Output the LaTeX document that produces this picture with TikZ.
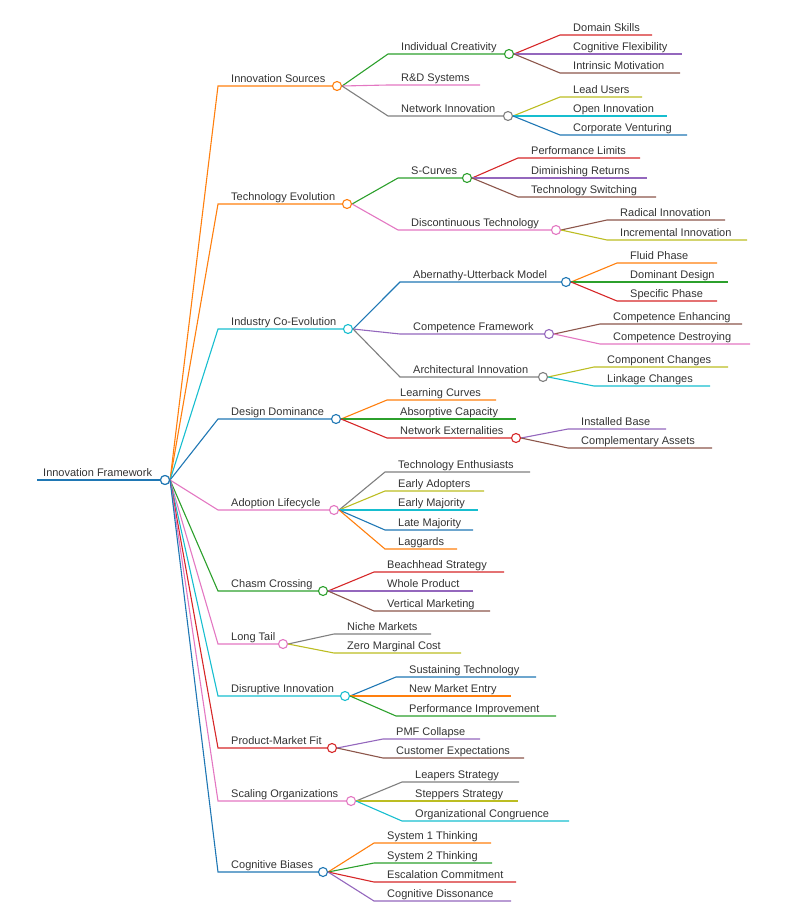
\documentclass[tikz,border=0pt]{standalone}
\usepackage{fontspec}
\setmainfont{Liberation Sans}
\definecolor{cB}{HTML}{1F77B4}\definecolor{cO}{HTML}{FF7F0E}\definecolor{cG}{HTML}{2CA02C}
\definecolor{cR}{HTML}{D62728}\definecolor{cP}{HTML}{9467BD}\definecolor{cN}{HTML}{8C564B}
\definecolor{cK}{HTML}{E377C2}\definecolor{cY}{HTML}{7F7F7F}\definecolor{cL}{HTML}{BCBD22}
\definecolor{cC}{HTML}{17BECF}\definecolor{txt}{HTML}{333333}
\tikzset{lab/.style={anchor=base west,inner sep=0pt,text=txt,font=\fontsize{11}{13}\selectfont},
dot/.style={circle,draw=#1,fill=white,line width=1.1pt,minimum size=9pt,inner sep=0pt},
br/.style={draw=#1,line width=1.1pt}}
% \midb{name}{parent}{startx}{circlex}{y}{color}{text}
\newcommand\midb[7]{%
 \coordinate (#1-s) at (#3,#5);
 \draw[br=#6] (#2.east) .. controls ($(#2.east)!0.5!(#1-s)$ |- #2.east) and ($(#2.east)!0.5!(#1-s)$ |- #1-s) .. (#1-s) -- (#4,#5);
 \node[lab] at (#3+13,#5-4) {#7};
 \node[dot=#6] (#1) at (#4,#5) {};}
% \leafb{name}{parent}{startx}{endx}{y}{color}{text}
\newcommand\leafb[7]{%
 \coordinate (#1-s) at (#3,#5);
 \coordinate (#1) at (#4,#5);
 \draw[br=#6] (#2.east) .. controls ($(#2.east)!0.5!(#1-s)$ |- #2.east) and ($(#2.east)!0.5!(#1-s)$ |- #1-s) .. (#1-s) -- (#1);
 \node[lab] at (#3+13,#5-4) {#7};}
\usetikzlibrary{calc}
\begin{document}
\begin{tikzpicture}[x=1pt,y=-1pt]
\useasboundingbox (0,0) rectangle (786,916);
\coordinate (r0) at (37,480);
\draw[cB,line width=2pt] (r0) -- (165,480);
\node[lab] at (43,476) {Innovation Framework};
\node[dot=cB] (root) at (165,480) {};
\midb{a}{root}{218}{337}{86}{cO}{Innovation Sources}
\midb{a1}{a}{388}{509}{54}{cG}{Individual Creativity}
\leafb{a11}{a1}{560}{652}{35}{cR}{Domain Skills}
\leafb{a12}{a1}{560}{682}{54}{cP}{Cognitive Flexibility}
\leafb{a13}{a1}{560}{680}{73}{cN}{Intrinsic Motivation}
\leafb{a2}{a}{388}{480}{85}{cK}{R\&D Systems}
\midb{a3}{a}{388}{508}{116}{cY}{Network Innovation}
\leafb{a31}{a3}{560}{642}{97}{cL}{Lead Users}
\leafb{a32}{a3}{560}{667}{116}{cC}{Open Innovation}
\leafb{a33}{a3}{560}{687}{135}{cB}{Corporate Venturing}
\midb{b}{root}{218}{347}{204}{cO}{Technology Evolution}
\midb{b1}{b}{398}{467}{178}{cG}{S-Curves}
\leafb{b11}{b1}{518}{640}{158}{cR}{Performance Limits}
\leafb{b12}{b1}{518}{647}{178}{cP}{Diminishing Returns}
\leafb{b13}{b1}{518}{656}{197}{cN}{Technology Switching}
\midb{b2}{b}{398}{556}{230}{cK}{Discontinuous Technology}
\leafb{b21}{b2}{607}{725}{220}{cN}{Radical Innovation}
\leafb{b22}{b2}{607}{747}{240}{cL}{Incremental Innovation}
\midb{c}{root}{218}{348}{329}{cC}{Industry Co-Evolution}
\midb{c1}{c}{400}{566}{282}{cB}{Abernathy-Utterback Model}
\leafb{c11}{c1}{617}{717}{263}{cO}{Fluid Phase}
\leafb{c12}{c1}{617}{728}{282}{cG}{Dominant Design}
\leafb{c13}{c1}{617}{717}{301}{cR}{Specific Phase}
\midb{c2}{c}{400}{549}{334}{cP}{Competence Framework}
\leafb{c21}{c2}{600}{742}{324}{cN}{Competence Enhancing}
\leafb{c22}{c2}{600}{750}{344}{cK}{Competence Destroying}
\midb{c3}{c}{400}{543}{377}{cY}{Architectural Innovation}
\leafb{c31}{c3}{594}{728}{367}{cL}{Component Changes}
\leafb{c32}{c3}{594}{710}{386}{cC}{Linkage Changes}
\midb{d}{root}{218}{336}{419}{cB}{Design Dominance}
\leafb{d1}{d}{387}{496}{400}{cO}{Learning Curves}
\leafb{d2}{d}{387}{516}{419}{cG}{Absorptive Capacity}
\midb{d3}{d}{387}{516}{438}{cR}{Network Externalities}
\leafb{d31}{d3}{568}{666}{429}{cP}{Installed Base}
\leafb{d32}{d3}{568}{712}{448}{cN}{Complementary Assets}
\midb{e}{root}{218}{334}{510}{cK}{Adoption Lifecycle}
\leafb{e1}{e}{385}{530}{472}{cY}{Technology Enthusiasts}
\leafb{e2}{e}{385}{484}{491}{cL}{Early Adopters}
\leafb{e3}{e}{385}{478}{510}{cC}{Early Majority}
\leafb{e4}{e}{385}{473}{530}{cB}{Late Majority}
\leafb{e5}{e}{385}{457}{549}{cO}{Laggards}
\midb{f}{root}{218}{323}{591}{cG}{Chasm Crossing}
\leafb{f1}{f}{374}{504}{572}{cR}{Beachhead Strategy}
\leafb{f2}{f}{374}{473}{591}{cP}{Whole Product}
\leafb{f3}{f}{374}{490}{611}{cN}{Vertical Marketing}
\midb{g}{root}{218}{283}{644}{cK}{Long Tail}
\leafb{g1}{g}{334}{431}{634}{cY}{Niche Markets}
\leafb{g2}{g}{334}{461}{653}{cL}{Zero Marginal Cost}
\midb{h}{root}{218}{345}{696}{cC}{Disruptive Innovation}
\leafb{h1}{h}{396}{536}{677}{cB}{Sustaining Technology}
\leafb{h2}{h}{396}{511}{696}{cO}{New Market Entry}
\leafb{h3}{h}{396}{556}{716}{cG}{Performance Improvement}
\midb{i}{root}{218}{332}{748}{cR}{Product-Market Fit}
\leafb{i1}{i}{383}{480}{739}{cP}{PMF Collapse}
\leafb{i2}{i}{383}{524}{758}{cN}{Customer Expectations}
\midb{j}{root}{218}{351}{801}{cK}{Scaling Organizations}
\leafb{j1}{j}{402}{519}{782}{cY}{Leapers Strategy}
\leafb{j2}{j}{402}{518}{801}{cL}{Steppers Strategy}
\leafb{j3}{j}{402}{569}{821}{cC}{Organizational Congruence}
\midb{k}{root}{218}{323}{872}{cB}{Cognitive Biases}
\leafb{k1}{k}{374}{491}{843}{cO}{System 1 Thinking}
\leafb{k2}{k}{374}{492}{863}{cG}{System 2 Thinking}
\leafb{k3}{k}{374}{516}{882}{cR}{Escalation Commitment}
\leafb{k4}{k}{374}{511}{901}{cP}{Cognitive Dissonance}
\node[dot=cB] at (root) {};
\end{tikzpicture}
\end{document}
